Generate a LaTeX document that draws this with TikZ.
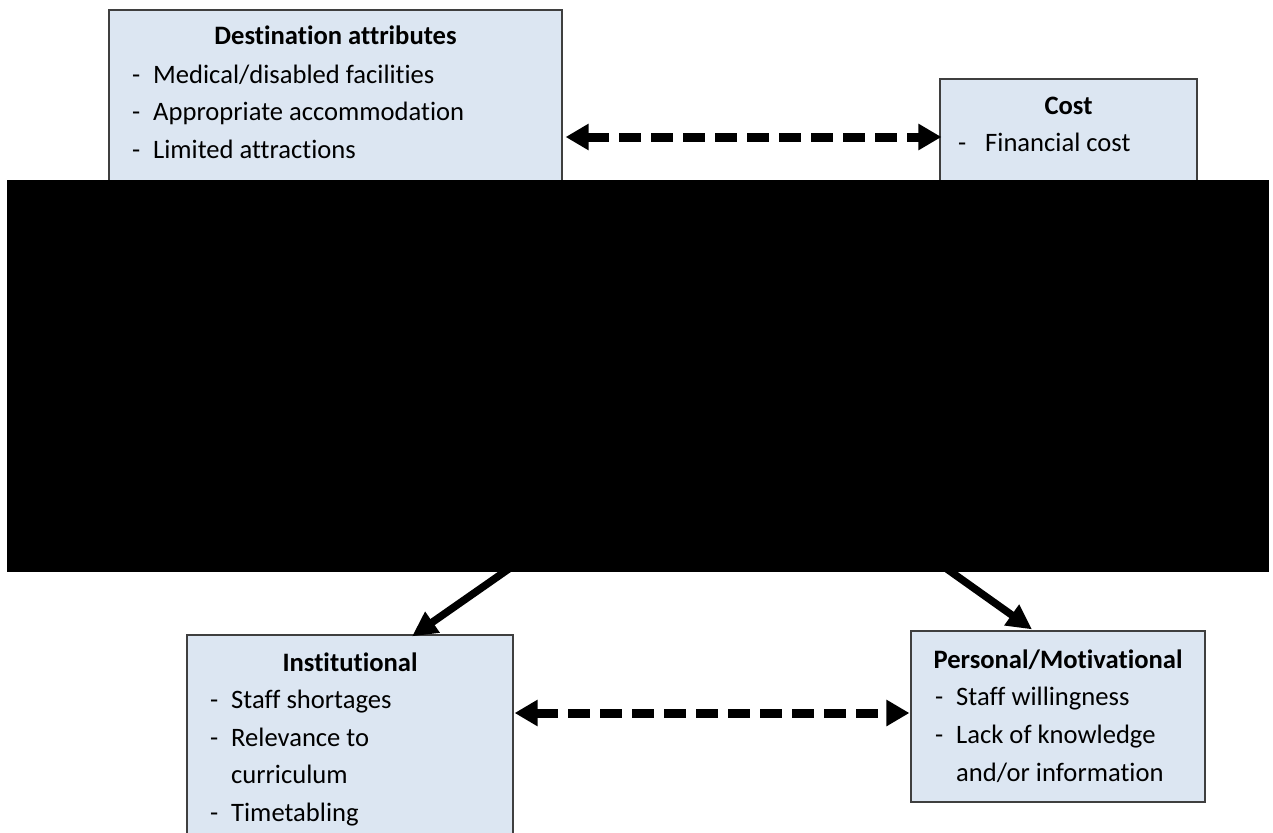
\documentclass[tikz,border=0pt]{standalone}
\usepackage{fontspec}
\setmainfont[Ligatures=NoCommon]{Carlito}
\usetikzlibrary{arrows.meta}
\definecolor{boxfill}{HTML}{DCE6F2}
\definecolor{boxline}{HTML}{3F3F3F}
\tikzset{
  x=1pt, y=-1pt,
  factorbox/.style={draw=boxline, fill=boxfill, line width=1.2pt, rectangle, inner sep=0pt},
  boxtitle/.style={anchor=base, inner sep=0pt, font=\fontsize{26.6}{30}\selectfont\bfseries},
  boxitem/.style={anchor=base west, inner sep=0pt, font=\fontsize{26.6}{30}\selectfont},
  twoway/.style={line width=9pt, dash pattern=on 22pt off 10pt,
    {Triangle[length=23pt,width=25pt]}-{Triangle[length=23pt,width=25pt]}},
  oneway/.style={line width=7.5pt, -{Triangle[length=25pt,width=24pt]}},
}
\begin{document}
\begin{tikzpicture}
\useasboundingbox (0,0) rectangle (1273,832);
\clip (0,0) rectangle (1273,832);

% factor boxes
\node[factorbox, minimum width=453pt, minimum height=200pt] (dest) at (335.5,110) {};
\node[factorbox, minimum width=257pt, minimum height=130pt] (cost) at (1068.5,144) {};
\node[factorbox, minimum width=326pt, minimum height=210pt] (inst) at (350,740) {};
\node[factorbox, minimum width=294pt, minimum height=171pt] (pers) at (1058,716.5) {};

% box texts
\node[boxtitle] (destT) at (335.5,45) {Destination attributes};
\node[boxitem] (destD1) at (132,84) {-};
\node[boxitem] (destI1) at (153,84) {Medical/disabled facilities};
\node[boxitem] (destD2) at (132,121) {-};
\node[boxitem] (destI2) at (153,121) {Appropriate accommodation};
\node[boxitem] (destD3) at (132,158) {-};
\node[boxitem] (destI3) at (153,158) {Limited attractions};

\node[boxtitle] (costT) at (1068.5,114) {Cost};
\node[boxitem] (costD1) at (958,151) {-};
\node[boxitem] (costI1) at (985,151) {Financial cost};

\node[boxtitle] (instT) at (350,671) {Institutional};
\node[boxitem] (instD1) at (210,708.5) {-};
\node[boxitem] (instI1) at (231,708.5) {Staff shortages};
\node[boxitem] (instD2) at (210,746) {-};
\node[boxitem] (instI2) at (231,746) {Relevance to};
\node[boxitem] (instI2b) at (231,783.5) {curriculum};
\node[boxitem] (instD3) at (210,821) {-};
\node[boxitem] (instI3) at (231,821) {Timetabling};

\node[boxtitle] (persT) at (1058,668) {Personal/Motivational};
\node[boxitem] (persD1) at (935,705) {-};
\node[boxitem] (persI1) at (956,705) {Staff willingness};
\node[boxitem] (persD2) at (935,743) {-};
\node[boxitem] (persI2) at (956,743) {Lack of knowledge};
\node[boxitem] (persI2b) at (956,781) {and/or information};

% connector levels and hidden start points
\coordinate (topRow) at (0,137);
\coordinate (botRow) at (0,713);
\coordinate (hubL) at (548,541.5);
\coordinate (hubR) at (909,542);

% two-way dashed links
\draw[twoway] ([xshift=3pt]dest.east |- topRow) -- ([xshift=2pt]cost.west |- topRow);
\draw[twoway] ([xshift=1pt]inst.east |- botRow) -- ([xshift=-1pt]pers.west |- botRow);

% one-way links down to the lower boxes
\draw[oneway] (hubL) -- ([xshift=62pt,yshift=-2pt]inst.north);
\draw[oneway] (hubR) -- ([xshift=-26pt,yshift=1pt]pers.north);

% masked band across the middle
\fill[black] (7,180) rectangle (1269,572);
\end{tikzpicture}
\end{document}
